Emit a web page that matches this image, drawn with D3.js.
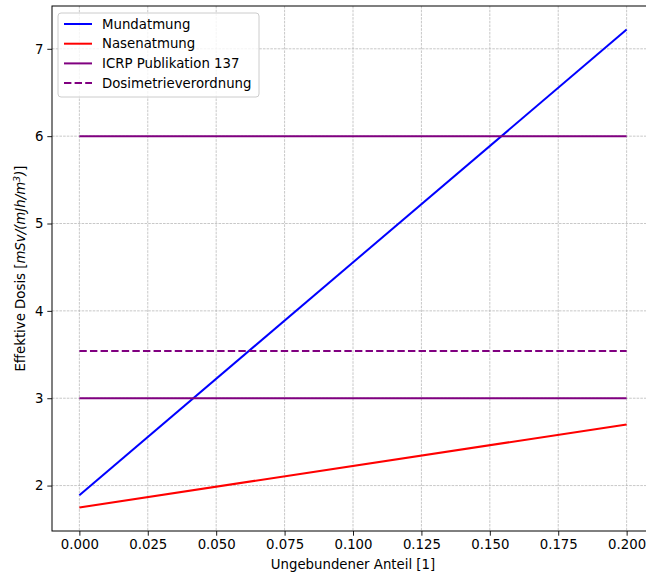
<!DOCTYPE html>
<html>
<head>
<meta charset="utf-8">
<script src="https://cdn.jsdelivr.net/npm/d3@7"></script>
<style>
  body { margin: 0; background: #fff; }
  svg { display: block; font-family: "DejaVu Sans", sans-serif; }
</style>
</head>
<body>
<svg id="chart" width="646" height="575"></svg>
<script>
// Ungebundener Anteil (x) and effective dose values
var fraction = [0.0, 0.2];
var mundatmung = [1.89, 7.22];
var nasenatmung = [1.75, 2.70];
var icrpHigh = [6.0, 6.0];
var icrpLow = [3.0, 3.0];
var dosimetrie = [3.54, 3.54];

var xTicks = [0, 0.025, 0.05, 0.075, 0.1, 0.125, 0.15, 0.175, 0.2];
var yTicks = [2, 3, 4, 5, 6, 7];

var legendItems = [
    { label: "Mundatmung", color: "#0000ff", dash: null },
    { label: "Nasenatmung", color: "#ff0000", dash: null },
    { label: "ICRP Publikation 137", color: "#800080", dash: null },
    { label: "Dosimetrieverordnung", color: "#800080", dash: "7.4,3.2" }
];

var svg = d3.select("#chart");

// plot box (right edge lies outside the picture, as in the reference)
var plotLeft = 52, plotRight = 654, plotTop = 6, plotBottom = 531;

var x = d3.scaleLinear().domain([-0.01, 0.21]).range([plotLeft, plotRight]);
var y = d3.scaleLinear().domain([1.48, 7.49]).range([plotBottom, plotTop]);

// grid
var grid = svg.append("g");
grid.selectAll(".gx").data(xTicks).enter().append("line")
    .attr("x1", function(d) { return x(d); }).attr("x2", function(d) { return x(d); })
    .attr("y1", plotTop).attr("y2", plotBottom)
    .attr("stroke", "#b0b0b0").attr("stroke-width", 0.7).attr("stroke-dasharray", "2.6,1.1");
grid.selectAll(".gy").data(yTicks).enter().append("line")
    .attr("y1", function(d) { return y(d); }).attr("y2", function(d) { return y(d); })
    .attr("x1", plotLeft).attr("x2", plotRight)
    .attr("stroke", "#b0b0b0").attr("stroke-width", 0.7).attr("stroke-dasharray", "2.6,1.1");

// lines
var line = d3.line()
    .x(function(d, i) { return x(fraction[i]); })
    .y(function(d) { return y(d); });

function drawSeries(values, color, dash) {
    svg.append("path")
       .attr("d", line(values))
       .attr("fill", "none")
       .attr("stroke", color)
       .attr("stroke-width", 2)
       .attr("stroke-dasharray", dash);
}
drawSeries(mundatmung, "#0000ff", null);
drawSeries(nasenatmung, "#ff0000", null);
drawSeries(icrpHigh, "#800080", null);
drawSeries(icrpLow, "#800080", null);
drawSeries(dosimetrie, "#800080", "7.4,3.2");

// axes
var xAxis = d3.axisBottom(x).tickValues(xTicks).tickFormat(d3.format(".3f")).tickSize(4.7).tickSizeOuter(0);
var yAxis = d3.axisLeft(y).tickValues(yTicks).tickFormat(d3.format("d")).tickSize(4.7).tickSizeOuter(0);

var gx = svg.append("g").attr("transform", "translate(0," + plotBottom + ")").call(xAxis);
var gy = svg.append("g").attr("transform", "translate(" + plotLeft + ",0)").call(yAxis);
[gx, gy].forEach(function(g) {
    g.select(".domain").remove();
    g.selectAll("line").attr("stroke", "#000").attr("stroke-width", 0.9);
    g.selectAll("text").attr("font-family", "DejaVu Sans").attr("font-size", 13.3).attr("fill", "#000");
});
gx.selectAll("text").attr("dy", "0.71em").attr("y", 8.5);
gy.selectAll("text").attr("x", -8.5);

// frame
svg.append("rect")
   .attr("x", plotLeft).attr("y", plotTop)
   .attr("width", plotRight - plotLeft).attr("height", plotBottom - plotTop)
   .attr("fill", "none").attr("stroke", "#000").attr("stroke-width", 1);

// axis labels
svg.append("text")
   .attr("x", (plotLeft + plotRight) / 2).attr("y", 569)
   .attr("text-anchor", "middle").attr("font-size", 13.3)
   .text("Ungebundener Anteil [1]");

var yl = svg.append("text")
   .attr("transform", "translate(25," + ((plotTop + plotBottom) / 2) + ") rotate(-90)")
   .attr("text-anchor", "middle").attr("font-size", 13.3);
yl.append("tspan").text("Effektive Dosis [");
yl.append("tspan").attr("font-style", "italic").text("mSv/(mJh/m");
yl.append("tspan").attr("font-style", "italic").attr("font-size", 9.5).attr("dy", -5).text("3");
yl.append("tspan").attr("dy", 5).attr("font-style", "italic").text(")");
yl.append("tspan").text("]");

// legend
var legend = svg.append("g").attr("transform", "translate(58,13)");
legend.append("rect")
   .attr("width", 201).attr("height", 84).attr("rx", 3)
   .attr("fill", "#fff").attr("fill-opacity", 0.8)
   .attr("stroke", "#cccccc").attr("stroke-width", 1);
var rows = legend.selectAll(".row").data(legendItems).enter().append("g")
   .attr("transform", function(d, i) { return "translate(0," + (11 + i * 19.7) + ")"; });
rows.append("line")
   .attr("x1", 6).attr("x2", 34)
   .attr("stroke", function(d) { return d.color; })
   .attr("stroke-width", 2)
   .attr("stroke-dasharray", function(d) { return d.dash; });
rows.append("text")
   .attr("x", 44).attr("dy", "0.35em")
   .attr("font-size", 13.3)
   .text(function(d) { return d.label; });
</script>
</body>
</html>
